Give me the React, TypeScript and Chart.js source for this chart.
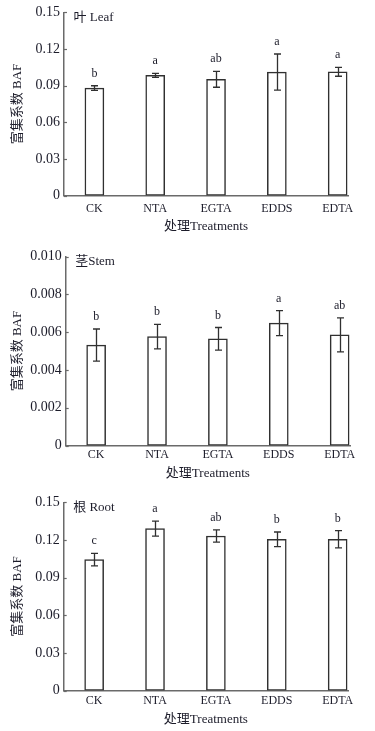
import React, { useEffect, useRef } from 'react';
import { Chart, registerables } from 'chart.js';

Chart.register(...registerables);

// ---- data ----
const categories = ['CK', 'NTA', 'EGTA', 'EDDS', 'EDTA'];

const leafValues = [0.088, 0.0984, 0.0952, 0.1011, 0.1013];
const leafErrors = [0.0019, 0.0016, 0.0065, 0.0148, 0.0036];
const leafLetters = ['b', 'a', 'ab', 'a', 'a'];
const leafTicks = [0, 0.03, 0.06, 0.09, 0.12, 0.15];
const leafTickLabels = ['0', '0.03', '0.06', '0.09', '0.12', '0.15'];

const stemValues = [0.00532, 0.00577, 0.00565, 0.00648, 0.00586];
const stemErrors = [0.00085, 0.00065, 0.0006, 0.00066, 0.0009];
const stemLetters = ['b', 'b', 'b', 'a', 'ab'];
const stemTicks = [0, 0.002, 0.004, 0.006, 0.008, 0.01];
const stemTickLabels = ['0', '0.002', '0.004', '0.006', '0.008', '0.010'];

const rootValues = [0.1044, 0.1291, 0.1232, 0.1206, 0.1206];
const rootErrors = [0.005, 0.006, 0.0049, 0.0058, 0.0069];
const rootLetters = ['c', 'a', 'ab', 'b', 'b'];
const rootTicks = [0, 0.03, 0.06, 0.09, 0.12, 0.15];
const rootTickLabels = ['0', '0.03', '0.06', '0.09', '0.12', '0.15'];

const xTitle = '处理Treatments';
const yTitle = '富集系数 BAF';

// ---- styles ----
const FONT = '"Liberation Serif", "Noto Sans CJK SC", serif';
const TEXT = '#1c1c2a';
const AXIS = '#6a6a6a';
const INK = '#303030';

type Layout = {
  top: number;
  height: number;
  padTop: number;
  left: number;
  padRight: number;
  xHeight: number;
  xTickPad: number;
  xTitlePad: number;
};

type PanelProps = {
  values: number[];
  errors: number[];
  letters: string[];
  ticks: number[];
  tickLabels: string[];
  label: string;
  layout: Layout;
};

function Panel({ values, errors, letters, ticks, tickLabels, label, layout }: PanelProps) {
  const ref = useRef<HTMLCanvasElement>(null);

  useEffect(() => {
    const canvas = ref.current;
    if (!canvas) return;

    const extras = {
      id: 'extras',
      afterDatasetsDraw(chart: any) {
        const ctx = chart.ctx;
        const y = chart.scales.y;
        const area = chart.chartArea;
        const meta = chart.getDatasetMeta(0);
        ctx.save();
        // inward y ticks
        ctx.strokeStyle = AXIS;
        ctx.lineWidth = 1.2;
        ticks.forEach((t) => {
          const py = Math.round(y.getPixelForValue(t)) + 0.5;
          ctx.beginPath();
          ctx.moveTo(area.left, py);
          ctx.lineTo(area.left + 3, py);
          ctx.stroke();
        });
        // error bars and letters
        ctx.strokeStyle = INK;
        ctx.lineWidth = 1.3;
        meta.data.forEach((el: any, i: number) => {
          const x = Math.round(el.x) + 0.5;
          const yt = y.getPixelForValue(values[i] + errors[i]);
          const yb = y.getPixelForValue(values[i] - errors[i]);
          ctx.beginPath();
          ctx.moveTo(x, yt);
          ctx.lineTo(x, yb);
          ctx.moveTo(x - 3.5, yt);
          ctx.lineTo(x + 3.5, yt);
          ctx.moveTo(x - 3.5, yb);
          ctx.lineTo(x + 3.5, yb);
          ctx.stroke();
          ctx.fillStyle = TEXT;
          ctx.font = `12px ${FONT}`;
          ctx.textAlign = 'center';
          ctx.textBaseline = 'alphabetic';
          ctx.fillText(letters[i], el.x, yt - 9);
        });
        // panel label
        ctx.fillStyle = TEXT;
        ctx.font = `13px ${FONT}`;
        ctx.textAlign = 'left';
        ctx.textBaseline = 'middle';
        ctx.fillText(label, area.left + 9.5, area.top + 5);
        ctx.restore();
      },
    };

    const chart = new Chart(canvas, {
      type: 'bar',
      data: {
        datasets: [
          {
            data: values.map((v, i) => ({ x: i + 1, y: v })),
            backgroundColor: '#ffffff',
            borderColor: INK,
            borderWidth: 1.5,
            borderSkipped: false,
            barThickness: 19,
          } as any,
        ],
      },
      options: {
        responsive: false,
        animation: false,
        devicePixelRatio: 1,
        layout: { padding: { top: layout.padTop, right: layout.padRight, bottom: 0, left: 0 } },
        plugins: { legend: { display: false }, tooltip: { enabled: false } },
        scales: {
          x: {
            type: 'linear',
            offset: false,
            min: 0.5,
            max: 5.17,
            grid: { display: false, drawTicks: false, offset: false },
            border: { display: true, color: AXIS, width: 1.5 },
            afterBuildTicks: (s: any) => {
              s.ticks = categories.map((_, i) => ({ value: i + 1 }));
            },
            ticks: {
              callback: (v: any) => categories[Number(v) - 1] ?? '',
              font: { family: FONT, size: 12 },
              color: TEXT,
              padding: layout.xTickPad,
              maxRotation: 0,
              autoSkip: false,
            },
            title: {
              display: true,
              text: xTitle,
              font: { family: FONT, size: 13 },
              color: TEXT,
              padding: { top: 0, bottom: layout.xTitlePad },
            },
            afterFit: (s: any) => {
              s.height = layout.xHeight;
            },
          },
          y: {
            type: 'linear',
            min: 0,
            max: ticks[ticks.length - 1],
            grid: { display: false, drawTicks: false },
            border: { display: true, color: AXIS, width: 1.5 },
            afterBuildTicks: (s: any) => {
              s.ticks = ticks.map((v) => ({ value: v }));
            },
            ticks: {
              callback: (_v: any, i: number) => tickLabels[i],
              font: { family: FONT, size: 14 },
              color: TEXT,
              padding: 4,
            },
            title: {
              display: true,
              text: yTitle,
              font: { family: FONT, size: 13 },
              color: TEXT,
              padding: { top: 10.2, bottom: 0 },
            },
            afterFit: (s: any) => {
              s.width = layout.left;
            },
          },
        },
      } as any,
      plugins: [extras],
    });
    return () => chart.destroy();
  }, []);

  return (
    <canvas
      ref={ref}
      width={375}
      height={layout.height}
      style={{ position: 'absolute', left: 0, top: layout.top, width: 375, height: layout.height }}
    />
  );
}

const layout1: Layout = { top: 0, height: 243, padTop: 9.5, left: 64, padRight: 27, xHeight: 47.5, xTickPad: 5.8, xTitlePad: 8.2 };
const layout2: Layout = { top: 243, height: 247, padTop: 13.7, left: 65.7, padRight: 25, xHeight: 44.5, xTickPad: 2.2, xTitlePad: 8.9 };
const layout3: Layout = { top: 490, height: 241, padTop: 11.7, left: 63.7, padRight: 27, xHeight: 40.5, xTickPad: 3.2, xTitlePad: 3.2 };

export default function App() {
  return (
    <div style={{ position: 'absolute', left: 0, top: 0, width: 375, height: 731, background: '#ffffff' }}>
      <Panel values={leafValues} errors={leafErrors} letters={leafLetters} ticks={leafTicks} tickLabels={leafTickLabels} label="叶 Leaf" layout={layout1} />
      <Panel values={stemValues} errors={stemErrors} letters={stemLetters} ticks={stemTicks} tickLabels={stemTickLabels} label="茎Stem" layout={layout2} />
      <Panel values={rootValues} errors={rootErrors} letters={rootLetters} ticks={rootTicks} tickLabels={rootTickLabels} label="根 Root" layout={layout3} />
    </div>
  );
}
